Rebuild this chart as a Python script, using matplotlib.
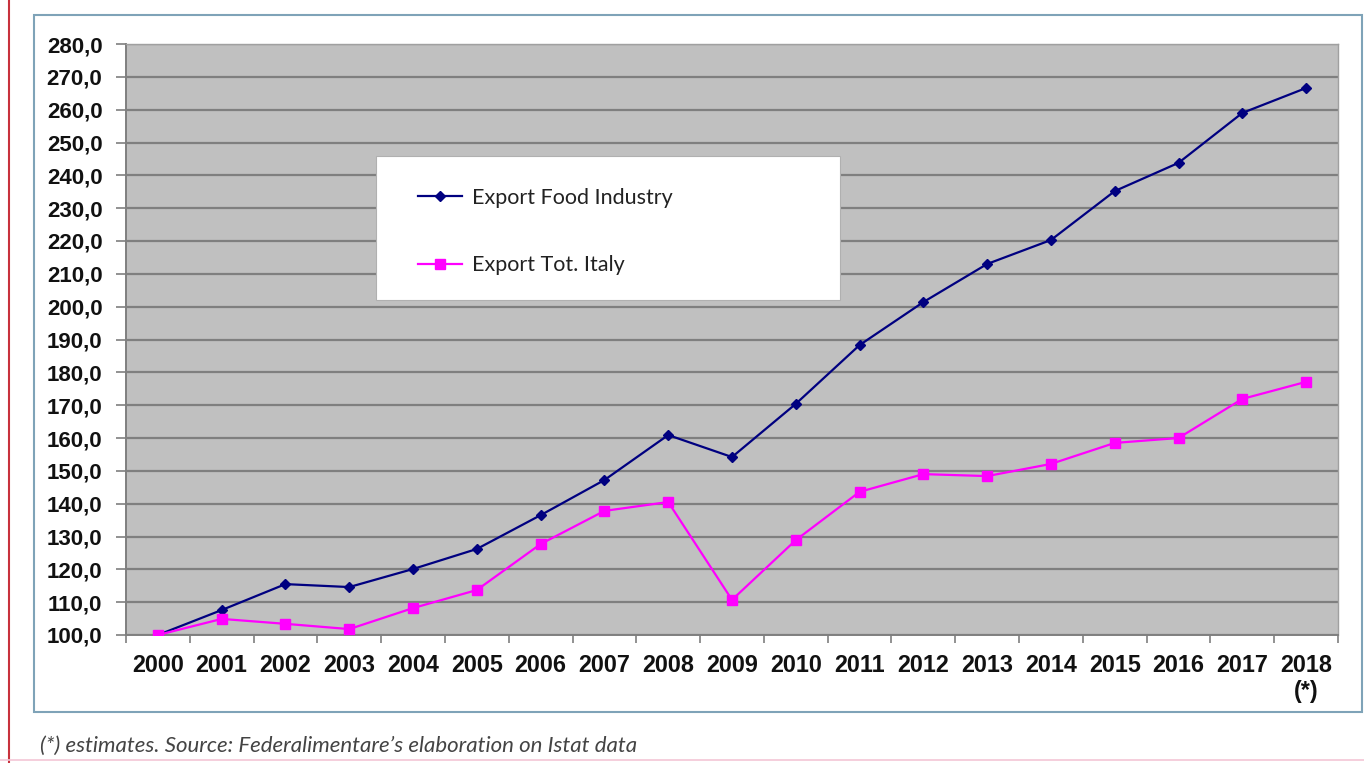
#!/usr/bin/env python3
"""Export index (2000 = 100): food industry vs total Italy, 2000-2018."""
import matplotlib.pyplot as plt
from matplotlib.patches import Rectangle
from matplotlib.lines import Line2D
from matplotlib.ticker import FuncFormatter

years = ["2000", "2001", "2002", "2003", "2004", "2005", "2006", "2007", "2008",
         "2009", "2010", "2011", "2012", "2013", "2014", "2015", "2016", "2017",
         "2018\n(*)"]
food_industry = [100.0, 107.6, 115.5, 114.6, 120.1, 126.2, 136.5, 147.2, 160.9,
                 154.2, 170.4, 188.3, 201.4, 213.0, 220.3, 235.2, 243.8, 259.0,
                 266.6]
tot_italy = [100.0, 104.9, 103.4, 101.8, 108.2, 113.7, 127.7, 137.8, 140.5,
             110.7, 128.9, 143.6, 149.0, 148.4, 152.1, 158.5, 160.0, 171.9,
             177.1]
y_ticks = list(range(100, 281, 10))

NAVY = "#000080"
MAGENTA = "#ff00ff"
GRID = "#7f7f7f"

fig = plt.figure(figsize=(13.64, 7.63), dpi=100)
W, H = 1364, 763

# page decorations: red margin rule, framed panel, pink bottom rule
fig.add_artist(Line2D([9 / W, 9 / W], [0, 1], color="#c8323c", lw=1.5))
fig.add_artist(Line2D([0, 1], [3 / H, 3 / H], color="#f3c6d6", lw=1.2))
fig.add_artist(Rectangle((34 / W, 1 - 712 / H), (1362 - 34) / W, (712 - 15) / H,
                         facecolor="white", edgecolor="#7fa3b8", lw=1.5,
                         transform=fig.transFigure, zorder=0))

ax = fig.add_axes([126 / W, 1 - 635 / H, (1338 - 126) / W, (635 - 44) / H])
ax.set_facecolor("#c0c0c0")

x = list(range(len(years)))
ax.plot(x, food_industry, color=NAVY, lw=1.6, marker="D", ms=5.5,
        mfc=NAVY, mec=NAVY, zorder=3)
ax.plot(x, tot_italy, color=MAGENTA, lw=1.6, marker="s", ms=7,
        mfc=MAGENTA, mec=MAGENTA, zorder=3)

ax.set_xlim(-0.5, len(years) - 0.5)
ax.set_ylim(100, 280)
ax.set_yticks(y_ticks)
ax.yaxis.set_major_formatter(FuncFormatter(lambda v, _: f"{v:.1f}".replace(".", ",")))
ax.set_xticks(x)
ax.set_xticklabels(years, va="top", linespacing=1.15)
ax.set_xticks([i - 0.5 for i in range(len(years) + 1)], minor=True)
ax.tick_params(axis="x", which="major", length=0, pad=14)
ax.tick_params(axis="x", which="minor", length=6, color=GRID, width=1.2)
ax.tick_params(axis="y", length=7, color=GRID, width=1.2, pad=10)
for lab in ax.get_xticklabels():
    lab.set_fontsize(16.8)
for lab in ax.get_yticklabels():
    lab.set_fontsize(16)
for lab in ax.get_xticklabels() + ax.get_yticklabels():
    lab.set_fontfamily("Liberation Sans")
    lab.set_fontweight("bold")
    lab.set_color("#111111")

ax.grid(axis="y", color=GRID, lw=1.6)
ax.set_axisbelow(True)
for side in ("top", "right"):
    ax.spines[side].set_color("#a0a0a0")
    ax.spines[side].set_linewidth(1.0)
for side in ("left", "bottom"):
    ax.spines[side].set_color(GRID)
    ax.spines[side].set_linewidth(1.4)

# legend panel
ax.add_patch(Rectangle((376 / W, 1 - 300 / H), 464 / W, 144 / H,
                       transform=fig.transFigure, facecolor="white",
                       edgecolor="#b0b0b0", lw=0.8, zorder=4))
handles = [
    Line2D([], [], color=NAVY, lw=1.6, marker="D", ms=5.5, mfc=NAVY, mec=NAVY),
    Line2D([], [], color=MAGENTA, lw=1.6, marker="s", ms=7, mfc=MAGENTA, mec=MAGENTA),
]
leg = ax.legend(handles, ["Export Food Industry", "Export Tot. Italy"],
                loc="upper left", bbox_to_anchor=(418 / W, 1 - 188 / H),
                bbox_transform=fig.transFigure, frameon=False,
                prop={"family": "Lato", "size": 15.5},
                handlelength=2.05, handletextpad=0.45, labelspacing=2.2,
                borderaxespad=0, borderpad=0)
leg.set_zorder(5)
for t in leg.get_texts():
    t.set_color("#222222")

fig.text(40 / W, 1 - 746 / H,
         "(*) estimates. Source: Federalimentare\u2019s elaboration on Istat data",
         fontfamily="Lato", fontstyle="italic", fontsize=16,
         color="#444444", va="center", ha="left")

fig.savefig("out.png", dpi=100)
